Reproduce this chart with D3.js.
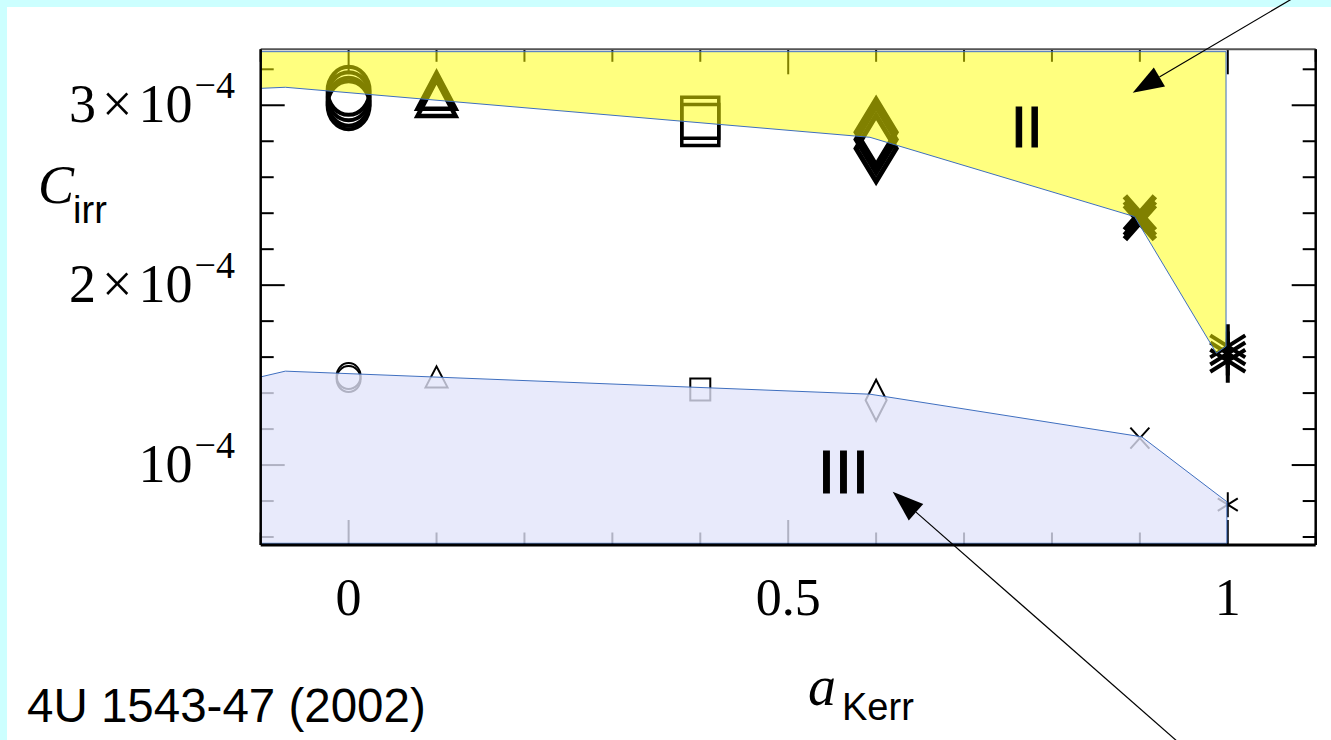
<!DOCTYPE html>
<html>
<head>
<meta charset="utf-8">
<script src="https://cdn.jsdelivr.net/npm/d3@7"></script>
<style>
  html, body { margin: 0; padding: 0; background: #ccffff; overflow: hidden; }
  #figure { width: 1331px; height: 740px; }
</style>
</head>
<body>
<div id="figure"></div>
<script>
// spin values and the marker used for each one
var spins = [0, 0.1, 0.4, 0.6, 0.9, 1];
var shapes = ["circle", "triangle", "square", "diamond", "cross", "asterisk"];

// C_irr in units of 1e-4, several fits stacked per spin
var cUpper = [[3.08, 3.05, 3.02, 3.00], [3.08, 3.04], [2.93, 2.89], [2.85, 2.81, 2.76], [2.40, 2.37, 2.35], [1.66, 1.62, 1.58]];
var cLower = [[1.495, 1.478], [1.49], [1.42], [1.36], [1.15], [0.78]];

// shaded regions (a_Kerr, C_irr x 1e-4)
var region2A = [-0.1, -0.072, 0.593, 0.894, 0.987, 0.998, 0.998, -0.1];
var region2C = [3.094, 3.10, 2.822, 2.381, 1.622, 1.66, 3.298, 3.298];
var region3A = [-0.1, -0.072, 0.593, 0.902, 0.999, 0.999, -0.1];
var region3C = [1.49, 1.522, 1.394, 1.157, 0.796, 0.565, 0.565];

var xMajor = [0, 0.5, 1];
var xMinor = [-0.1, 0.1, 0.2, 0.3, 0.4, 0.6, 0.7, 0.8, 0.9, 1.1];
var yMajor = [1, 2, 3];
var yMinor = [0.6, 0.8, 1.2, 1.4, 1.6, 1.8, 2.2, 2.4, 2.6, 2.8, 3.2];
var xTickLabels = ["0", "0.5", "1"];
var yTickMant = ["", "2", "3"];

var width = 1331, height = 740;
var svg = d3.select("#figure").append("svg")
    .attr("width", width)
    .attr("height", height);

svg.append("rect")
    .attr("x", 7).attr("y", 7)
    .attr("width", width - 7).attr("height", height - 7)
    .attr("fill", "white");

var x = d3.scaleLinear().domain([-0.1, 1.1]).range([260.7, 1315.7]);
var y = d3.scaleLinear().domain([0.5556, 3.3111]).range([545, 49.3]);

// ticks (drawn before regions so they get tinted)
var tk = svg.append("g").attr("stroke", "black").attr("stroke-width", 2);
function xTicks(vals, len) {
    tk.selectAll(null).data(vals).enter().append("line")
        .attr("x1", d => x(d)).attr("x2", d => x(d))
        .attr("y1", 545).attr("y2", 545 - len);
    tk.selectAll(null).data(vals).enter().append("line")
        .attr("x1", d => x(d)).attr("x2", d => x(d))
        .attr("y1", 49.3).attr("y2", 49.3 + len);
}
function yTicks(vals, len) {
    tk.selectAll(null).data(vals).enter().append("line")
        .attr("x1", 260.7).attr("x2", 260.7 + len)
        .attr("y1", d => y(d)).attr("y2", d => y(d));
    tk.selectAll(null).data(vals).enter().append("line")
        .attr("x1", 1315.7).attr("x2", 1315.7 - len)
        .attr("y1", d => y(d)).attr("y2", d => y(d));
}
xTicks(xMajor, 25);
xTicks(xMinor, 12.5);
yTicks(yMajor, 24);
yTicks(yMinor, 13);

// marker shapes, hw/hh = half width/height
function markerPath(shape, hw, hh) {
    switch (shape) {
        case "circle":
            return "M" + (-hw) + ",0A" + hw + "," + hh + " 0 1,0 " + hw + ",0A" + hw + "," + hh + " 0 1,0 " + (-hw) + ",0Z";
        case "triangle":
            return "M0," + (-hh) + "L" + hw + "," + hh + "L" + (-hw) + "," + hh + "Z";
        case "square":
            return "M" + (-hw) + "," + (-hh) + "H" + hw + "V" + hh + "H" + (-hw) + "Z";
        case "diamond":
            return "M0," + (-hh) + "L" + hw + ",0L0," + hh + "L" + (-hw) + ",0Z";
        case "cross":
            return "M" + (-hw) + "," + (-hh) + "L" + hw + "," + hh + "M" + hw + "," + (-hh) + "L" + (-hw) + "," + hh;
        case "asterisk":
            return "M0," + (-hh) + "V" + hh + "M" + (-hw) + "," + (-hh / 2) + "L" + hw + "," + (hh / 2) +
                "M" + hw + "," + (-hh / 2) + "L" + (-hw) + "," + (hh / 2);
    }
}
var bigSize = {
    circle: [21, 24, 4], triangle: [19, 18, 4.5], square: [18.5, 20.5, 3.5],
    diamond: [20, 33, 5], cross: [15, 17, 6], asterisk: [17.5, 22, 4]
};
var smallSize = {
    circle: [12, 13, 2], triangle: [11, 10.5, 2], square: [10, 11, 2],
    diamond: [10.5, 20.5, 2], cross: [9.5, 10.5, 2], asterisk: [10, 12.5, 2]
};

function flatten(vals, sizes) {
    var out = [];
    vals.forEach(function (list, i) {
        list.forEach(function (c) {
            out.push({ a: spins[i], c: c, shape: shapes[i], size: sizes[shapes[i]] });
        });
    });
    return out;
}

var pts = flatten(cUpper, bigSize).concat(flatten(cLower, smallSize));
svg.append("g").selectAll("path")
    .data(pts)
    .enter()
    .append("path")
    .attr("transform", d => "translate(" + x(d.a) + "," + y(d.c) + ")")
    .attr("d", d => markerPath(d.shape, d.size[0], d.size[1]))
    .attr("fill", "none")
    .attr("stroke", "black")
    .attr("stroke-width", d => d.size[2]);

// shaded regions on top
var poly = d3.line().x(d => x(d[0])).y(d => y(d[1]));
svg.append("path")
    .attr("d", poly(d3.zip(region2A, region2C)) + "Z")
    .attr("fill", "rgb(255,255,0)")
    .attr("fill-opacity", 0.5)
    .attr("stroke", "#3f6fbf")
    .attr("stroke-width", 1);
svg.append("path")
    .attr("d", poly(d3.zip(region3A, region3C)) + "Z")
    .attr("fill", "rgb(226,228,250)")
    .attr("fill-opacity", 0.78)
    .attr("stroke", "#3f6fbf")
    .attr("stroke-width", 1);

// frame
svg.append("line").attr("x1", 260.7).attr("x2", 1315.7).attr("y1", 49.3).attr("y2", 49.3)
    .attr("stroke", "#555").attr("stroke-width", 2);
svg.append("line").attr("x1", 260.7).attr("x2", 1315.7).attr("y1", 545).attr("y2", 545)
    .attr("stroke", "black").attr("stroke-width", 3);
svg.append("line").attr("x1", 260.7).attr("x2", 260.7).attr("y1", 49.3).attr("y2", 545)
    .attr("stroke", "black").attr("stroke-width", 2.5);
svg.append("line").attr("x1", 1315.7).attr("x2", 1315.7).attr("y1", 49.3).attr("y2", 545)
    .attr("stroke", "black").attr("stroke-width", 2.5);

// y tick labels
var serif = "'Liberation Serif', 'DejaVu Serif', serif";
var ylab = svg.append("g").attr("font-family", serif).attr("fill", "black");
yMajor.forEach(function (v, i) {
    var t = ylab.append("text")
        .attr("x", 235).attr("y", y(v) + 16.5)
        .attr("text-anchor", "end")
        .attr("font-size", 54);
    if (yTickMant[i]) {
        t.append("tspan").text(yTickMant[i]);
        t.append("tspan").attr("dx", 6).text("×");
        t.append("tspan").attr("dx", 6).text("10");
    } else {
        t.append("tspan").text("10");
    }
    t.append("tspan").attr("dx", 2).attr("dy", -24).attr("font-size", 38).text("−4");
});

// x tick labels
svg.append("g").selectAll("text")
    .data(xMajor)
    .enter()
    .append("text")
    .attr("x", d => x(d))
    .attr("y", 615)
    .attr("text-anchor", "middle")
    .attr("font-family", serif)
    .attr("font-size", 52)
    .text((d, i) => xTickLabels[i]);

// axis titles
var sans = "'Liberation Sans', Arial, sans-serif";
var yt = svg.append("text").attr("x", 38).attr("y", 203);
yt.append("tspan").attr("font-family", serif).attr("font-style", "italic").attr("font-size", 54).text("C");
yt.append("tspan").attr("font-family", sans).attr("font-size", 38).attr("dx", -1).attr("dy", 20).text("irr");

var xt = svg.append("text").attr("x", 808).attr("y", 705);
xt.append("tspan").attr("font-family", serif).attr("font-style", "italic").attr("font-size", 56).text("a");
xt.append("tspan").attr("font-family", sans).attr("font-size", 38).attr("dx", 6).attr("dy", 15).text("Kerr");

svg.append("text")
    .attr("x", 27).attr("y", 722)
    .attr("font-family", sans)
    .attr("font-size", 47.5)
    .text("4U 1543-47 (2002)");

// region labels
svg.append("text").attr("x", 1011).attr("y", 146.7)
    .attr("font-family", sans).attr("font-size", 57)
    .attr("stroke", "black").attr("stroke-width", 1.2).text("II");
svg.append("text").attr("x", 818).attr("y", 493)
    .attr("font-family", sans).attr("font-size", 61)
    .attr("stroke", "black").attr("stroke-width", 1.2).text("III");

// arrows
function arrow(x0, y0, x1, y1) {
    var ang = Math.atan2(y1 - y0, x1 - x0);
    var len = 31, half = 11;
    var bx = x1 - len * Math.cos(ang), by = y1 - len * Math.sin(ang);
    svg.append("line")
        .attr("x1", x0).attr("y1", y0).attr("x2", bx).attr("y2", by)
        .attr("stroke", "black").attr("stroke-width", 1.2);
    svg.append("path")
        .attr("d", "M" + x1 + "," + y1 +
            "L" + (bx + half * Math.sin(ang)) + "," + (by - half * Math.cos(ang)) +
            "L" + (bx - half * Math.sin(ang)) + "," + (by + half * Math.cos(ang)) + "Z")
        .attr("fill", "black");
}
arrow(1307, -10, 1132.7, 92.7);
arrow(1178, 742, 892.7, 491.7);
</script>
</body>
</html>
